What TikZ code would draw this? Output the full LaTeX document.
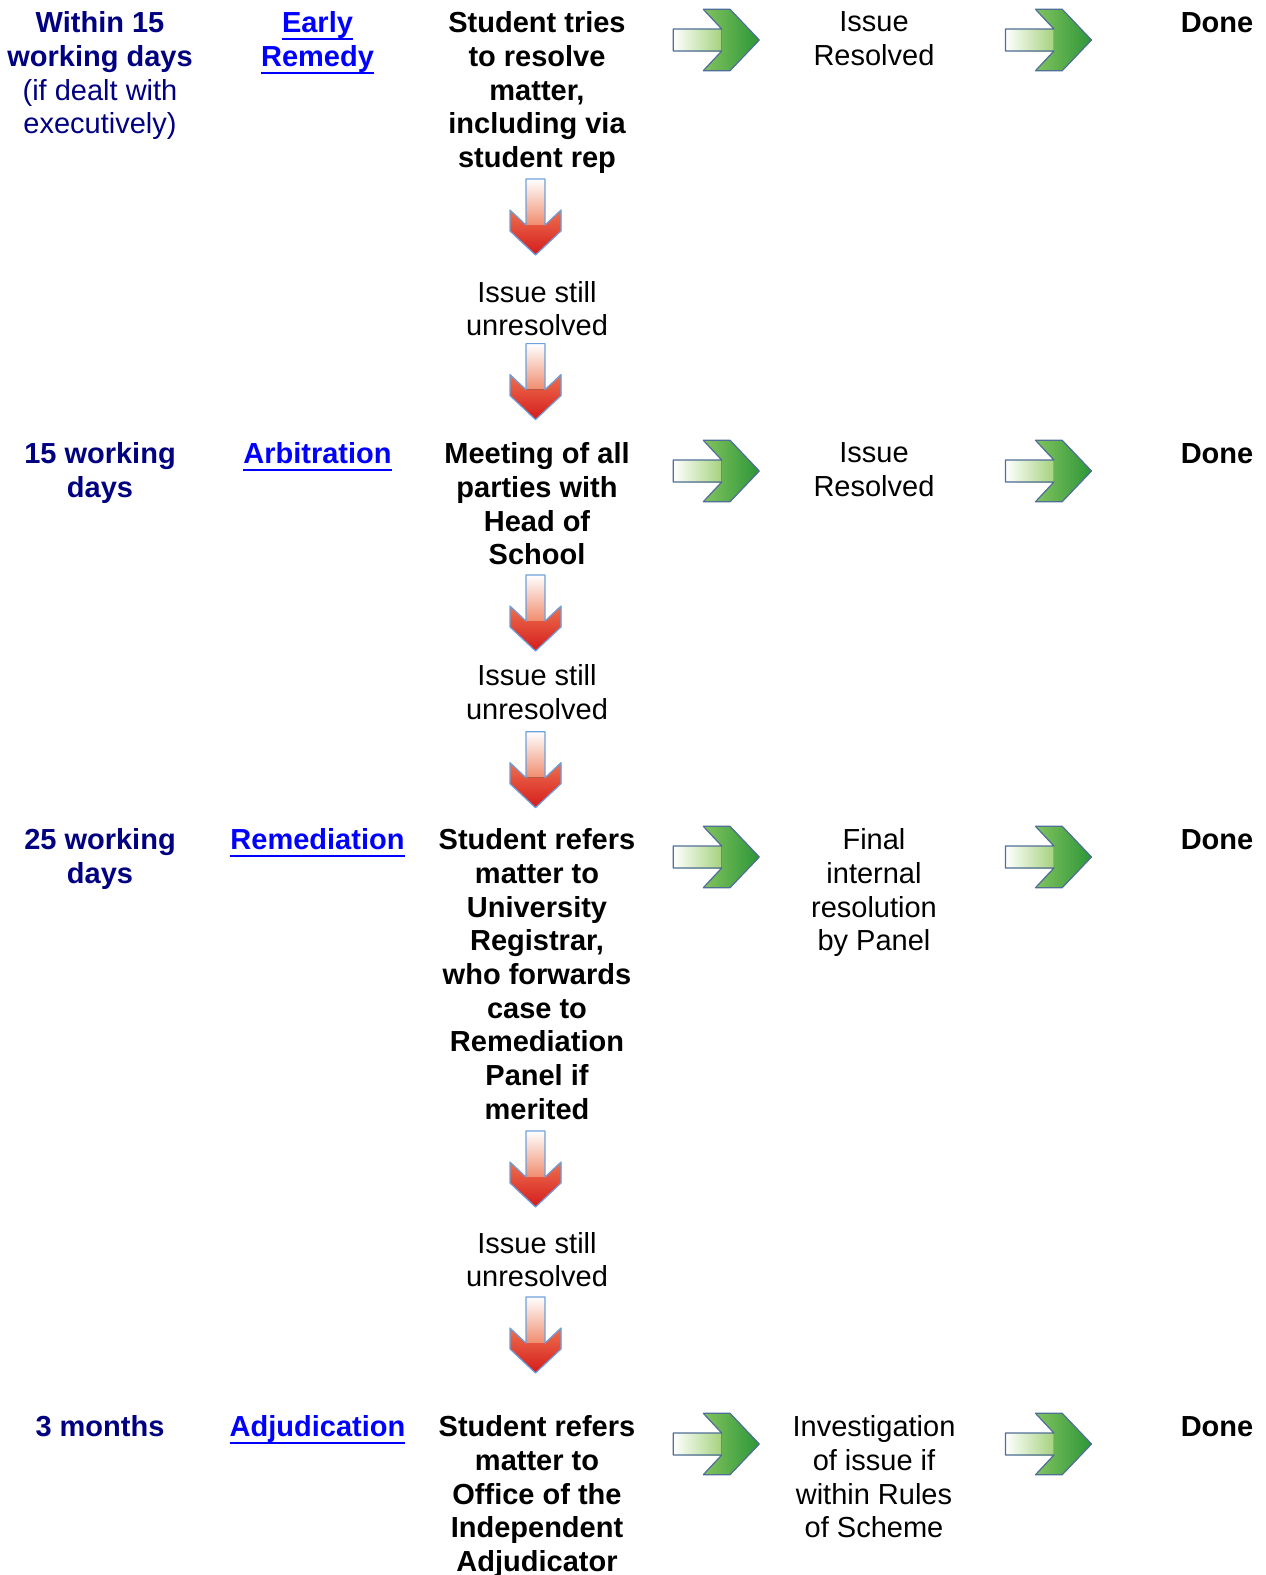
\documentclass[tikz,border=0pt]{standalone}
\usepackage{fontspec}
\setmainfont{Liberation Sans}
\definecolor{deepnavy}{RGB}{0,0,128}
\definecolor{linkblue}{RGB}{0,0,255}
\definecolor{shaftgreen}{RGB}{165,210,125}
\definecolor{headgreenA}{RGB}{130,195,95}
\definecolor{headgreenB}{RGB}{45,150,55}
\definecolor{edgegreen}{RGB}{80,110,150}
\definecolor{shaftred}{RGB}{240,140,110}
\definecolor{headredA}{RGB}{238,112,78}
\definecolor{headredB}{RGB}{212,28,28}
\definecolor{edgered}{RGB}{110,160,220}
\newcommand\bigfont{\fontsize{29}{33.7}\selectfont}
\newsavebox\linkbox
\newcommand\ulink[1]{\sbox\linkbox{#1}\rlap{\rule[-7.6pt]{\wd\linkbox}{2pt}}\usebox\linkbox}
% green arrow, tip at (#1,#2)
\newcommand\gonext[2]{%
  \fill[left color=white,right color=shaftgreen] ({#1-86},{#2-11}) rectangle ({#1-37.6},{#2+11});
  \fill[left color=headgreenA,right color=headgreenB] ({#1-37.6},{#2-11})--({#1-56},{#2-30.7})--({#1-29.3},{#2-30.7})--({#1},{#2})--({#1-29.3},{#2+30.7})--({#1-56},{#2+30.7})--({#1-37.6},{#2+11})--cycle;
  \draw[edgegreen,line width=1.2pt,line join=round] ({#1-86},{#2-11})--({#1-37.6},{#2-11})--({#1-56},{#2-30.7})--({#1-29.3},{#2-30.7})--({#1},{#2})--({#1-29.3},{#2+30.7})--({#1-56},{#2+30.7})--({#1-37.6},{#2+11})--({#1-86},{#2+11})--cycle;}
% red arrow, tip at (#1,#2)
\newcommand\godown[2]{%
  \fill[top color=white,bottom color=shaftred] ({#1-9.5},{#2-76}) rectangle ({#1+9.5},{#2-30});
  \fill[top color=headredA,bottom color=headredB] ({#1-9.5},{#2-30})--({#1-25.5},{#2-45})--({#1-25.5},{#2-24})--({#1},{#2})--({#1+25.5},{#2-24})--({#1+25.5},{#2-45})--({#1+9.5},{#2-30})--cycle;
  \draw[edgered,line width=1.2pt,line join=round] ({#1-9.5},{#2-76})--({#1-9.5},{#2-30})--({#1-25.5},{#2-45})--({#1-25.5},{#2-24})--({#1},{#2})--({#1+25.5},{#2-24})--({#1+25.5},{#2-45})--({#1+9.5},{#2-30})--({#1+9.5},{#2-76})--cycle;}
\tikzset{
  cell/.style={anchor=north,inner sep=0pt,align=center,font=\bigfont,execute at begin node={\rule{0pt}{24pt}}},
  when/.style={cell,text=deepnavy,font=\bigfont\bfseries},
  stage/.style={cell,text=linkblue,font=\bigfont\bfseries},
  action/.style={cell,font=\bigfont\bfseries},
  outcome/.style={cell},
}
\begin{document}
\begin{tikzpicture}[x=1pt,y=-1pt]
\useasboundingbox (0,0) rectangle (1266,1575);
% early remedy
\node[cell,text=deepnavy] (r1when) at (100,11.5) {\textbf{Within 15}\\\textbf{working days}\\(if dealt with\\executively)};
\node[stage] (r1stage) at (317.5,11.5) {\ulink{Early}\\\ulink{Remedy}};
\node[action] (r1step) at (537,11.5) {Student tries\\to resolve\\matter,\\including via\\student rep};
\node[outcome] (r1res) at (874,11.5) {Issue\\Resolved};
\node[action] (r1done) at (1217,8) {Done};
\gonext{759.3}{40}
\gonext{1091.5}{40}
\godown{535.5}{255}
\node[outcome] (still1) at (537,281) {Issue still\\unresolved};
\godown{535.5}{419.6}
% arbitration
\node[when] (r2when) at (100,442.5) {15 working\\days};
\node[stage] (r2stage) at (317.5,439) {\ulink{Arbitration}};
\node[action] (r2step) at (537,442.5) {Meeting of all\\parties with\\Head of\\School};
\node[outcome] (r2res) at (874,442.5) {Issue\\Resolved};
\node[action] (r2done) at (1217,439) {Done};
\gonext{759.3}{471}
\gonext{1091.5}{471}
\godown{535.5}{651}
\node[outcome] (still2) at (537,664.5) {Issue still\\unresolved};
\godown{535.5}{807.7}
% remediation
\node[when] (r3when) at (100,828.5) {25 working\\days};
\node[stage] (r3stage) at (317.5,825) {\ulink{Remediation}};
\node[action] (r3step) at (537,828.5) {Student refers\\matter to\\University\\Registrar,\\who forwards\\case to\\Remediation\\Panel if\\merited};
\node[outcome] (r3res) at (874,828.5) {Final\\internal\\resolution\\by Panel};
\node[action] (r3done) at (1217,825) {Done};
\gonext{759.3}{857}
\gonext{1091.5}{857}
\godown{535.5}{1207}
\node[outcome] (still3) at (537,1232) {Issue still\\unresolved};
\godown{535.5}{1373}
% adjudication
\node[when] (r4when) at (100,1412) {3 months};
\node[stage] (r4stage) at (317.5,1412) {\ulink{Adjudication}};
\node[action] (r4step) at (537,1415.5) {Student refers\\matter to\\Office of the\\Independent\\Adjudicator};
\node[outcome] (r4res) at (874,1415.5) {Investigation\\of issue if\\within Rules\\of Scheme};
\node[action] (r4done) at (1217,1412) {Done};
\gonext{759.3}{1444}
\gonext{1091.5}{1444}
\end{tikzpicture}
\end{document}
